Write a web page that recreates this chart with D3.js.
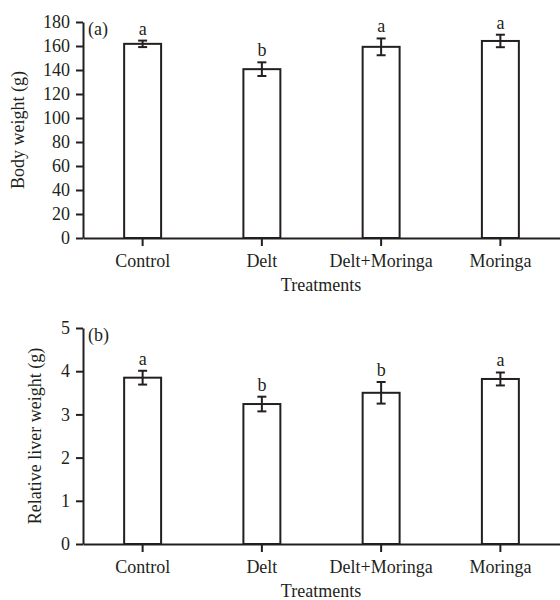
<!DOCTYPE html>
<html>
<head>
<meta charset="utf-8">
<script src="https://cdn.jsdelivr.net/npm/d3@7"></script>
<style>
  body { margin: 0; background: #fff; }
  svg text { font-family: "Liberation Serif", "Times New Roman", serif; fill: #231f20; }
</style>
</head>
<body>
<svg id="chart" width="560" height="600"></svg>
<script>
const treatments = ["Control", "Delt", "Delt+Moringa", "Moringa"];

// panel (a) body weight
const bodyWeight = [161.8, 140.7, 159.3, 164.2];
const bodyWeightErr = [2.7, 5.7, 7.0, 5.2];
const bodyWeightLetters = ["a", "b", "a", "a"];
const bodyWeightTicks = [0, 20, 40, 60, 80, 100, 120, 140, 160, 180];

// panel (b) relative liver weight
const liverWeight = [3.85, 3.24, 3.50, 3.82];
const liverWeightErr = [0.16, 0.17, 0.25, 0.15];
const liverWeightLetters = ["a", "b", "b", "a"];
const liverWeightTicks = [0, 1, 2, 3, 4, 5];

const ink = "#231f20";
const svg = d3.select("#chart");

const x = d3.scaleBand()
    .domain(treatments)
    .range([83, 560])
    .paddingInner(0.69)
    .paddingOuter(0.345);

const drawPanel = (opts) => {
  const g = svg.append("g");

  const y = d3.scaleLinear()
      .domain([0, d3.max(opts.ticks)])
      .range([opts.bottom, opts.top]);

  // bars
  g.selectAll("rect.bar")
    .data(opts.values)
    .enter().append("rect")
      .attr("class", "bar")
      .attr("x", (d, i) => x(treatments[i]))
      .attr("y", (d) => y(d))
      .attr("width", x.bandwidth())
      .attr("height", (d) => y(0) - y(d))
      .attr("fill", "#fff")
      .attr("stroke", ink)
      .attr("stroke-width", 2);

  // error bars
  const err = g.selectAll("g.err")
    .data(opts.values)
    .enter().append("g")
      .attr("class", "err")
      .attr("stroke", ink)
      .attr("stroke-width", 2);

  const cx = (i) => x(treatments[i]) + x.bandwidth() / 2;

  err.append("line")
    .attr("x1", (d, i) => cx(i)).attr("x2", (d, i) => cx(i))
    .attr("y1", (d, i) => y(d + opts.errors[i]))
    .attr("y2", (d, i) => y(d - opts.errors[i]));
  err.append("line")
    .attr("x1", (d, i) => cx(i) - 4.5).attr("x2", (d, i) => cx(i) + 4.5)
    .attr("y1", (d, i) => y(d + opts.errors[i]))
    .attr("y2", (d, i) => y(d + opts.errors[i]));
  err.append("line")
    .attr("x1", (d, i) => cx(i) - 4.5).attr("x2", (d, i) => cx(i) + 4.5)
    .attr("y1", (d, i) => y(d - opts.errors[i]))
    .attr("y2", (d, i) => y(d - opts.errors[i]));

  // significance letters
  g.selectAll("text.sig")
    .data(opts.values)
    .enter().append("text")
      .attr("class", "sig")
      .attr("x", (d, i) => cx(i))
      .attr("y", (d, i) => y(d + opts.errors[i]) - 6)
      .attr("text-anchor", "middle")
      .style("font-size", "18px")
      .text((d, i) => opts.letters[i]);

  // axes
  const yAxis = g.append("g")
      .attr("transform", "translate(83,0)")
      .call(d3.axisLeft(y).tickValues(opts.ticks).tickFormat(d3.format("d"))
        .tickSize(7).tickSizeOuter(0).tickPadding(6));

  const xAxis = g.append("g")
      .attr("transform", `translate(0,${opts.bottom})`)
      .call(d3.axisBottom(x).tickSize(8).tickSizeOuter(0).tickPadding(8));

  [yAxis, xAxis].forEach((a) => {
    a.selectAll("path, line").attr("stroke", ink).attr("stroke-width", 2);
    a.selectAll("text").style("font-size", "18px").attr("fill", ink)
      .style("font-family", "'Liberation Serif', 'Times New Roman', serif");
  });

  g.append("text")
    .attr("x", 88)
    .attr("y", opts.top + 13)
    .style("font-size", "18px")
    .text(opts.tag);

  g.append("text")
    .attr("x", 321)
    .attr("y", opts.bottom + 53)
    .attr("text-anchor", "middle")
    .style("font-size", "18px")
    .text("Treatments");

  g.append("text")
    .attr("transform", `translate(${opts.labelX},${(opts.top + opts.bottom) / 2}) rotate(-90)`)
    .attr("text-anchor", "middle")
    .attr("dy", "0.35em")
    .style("font-size", "18px")
    .text(opts.label);
};

drawPanel({
  values: bodyWeight, errors: bodyWeightErr, letters: bodyWeightLetters,
  ticks: bodyWeightTicks, top: 22, bottom: 238,
  tag: "(a)", label: "Body weight (g)", labelX: 18
});

drawPanel({
  values: liverWeight, errors: liverWeightErr, letters: liverWeightLetters,
  ticks: liverWeightTicks, top: 328, bottom: 544,
  tag: "(b)", label: "Relative liver weight (g)", labelX: 35
});
</script>
</body>
</html>
